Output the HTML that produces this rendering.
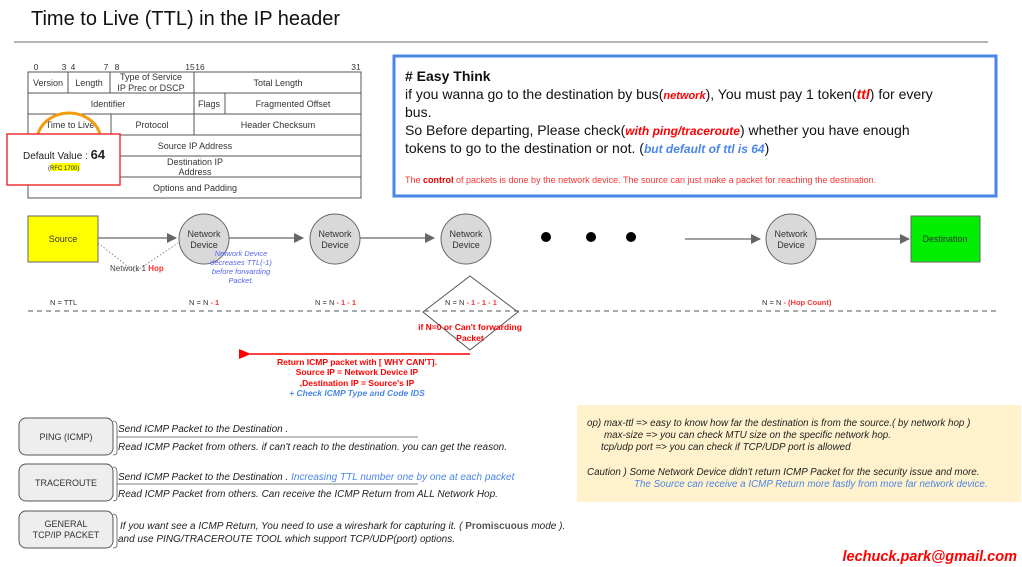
<!DOCTYPE html>
<html><head><meta charset="utf-8"><style>
html,body{margin:0;padding:0;background:#fff;}
svg{display:block;font-family:"Liberation Sans",Arial,sans-serif;}
</style></head><body>
<svg width="1022" height="567" viewBox="0 0 1022 567" xmlns="http://www.w3.org/2000/svg">
<defs>
<marker id="ag" markerWidth="10" markerHeight="10" refX="9" refY="5" orient="auto" markerUnits="userSpaceOnUse"><path d="M0,0 L10,5 L0,10 z" fill="#666"/></marker>
<marker id="ar" markerWidth="12" markerHeight="10" refX="1" refY="5" orient="auto" markerUnits="userSpaceOnUse"><path d="M12,0 L0,5 L12,10 z" fill="#f00"/></marker>
</defs>
<text x="31" y="25" font-size="20" fill="#111">Time to Live (TTL) in the IP header</text>
<line x1="14" y1="42" x2="988" y2="42" stroke="#888" stroke-width="1.3"/>

<g font-size="8.5" fill="#333" text-anchor="middle" stroke="none">
<text x="36" y="70">0</text><text x="64" y="70">3</text><text x="73" y="70">4</text><text x="106" y="70">7</text><text x="117" y="70">8</text><text x="190" y="70">15</text><text x="200" y="70">16</text><text x="356" y="70">31</text>
</g>
<g stroke="#555" stroke-width="1" fill="none">
<rect x="28" y="72" width="333" height="126"/>
<line x1="28" y1="93" x2="361" y2="93"/><line x1="28" y1="114" x2="361" y2="114"/><line x1="28" y1="135" x2="361" y2="135"/><line x1="28" y1="156" x2="361" y2="156"/><line x1="28" y1="177" x2="361" y2="177"/>
<line x1="68" y1="72" x2="68" y2="93"/><line x1="110" y1="72" x2="110" y2="93"/><line x1="194" y1="72" x2="194" y2="135"/>
<line x1="225" y1="93" x2="225" y2="114"/><line x1="111" y1="114" x2="111" y2="135"/>
</g>
<g font-size="9" fill="#333" text-anchor="middle">
<text x="48" y="86">Version</text><text x="89" y="86">Length</text>
<text x="151" y="80">Type of Service</text><text x="151" y="91">IP Prec or DSCP</text>
<text x="278" y="86">Total Length</text>
<text x="108" y="107">Identifier</text><text x="209" y="107">Flags</text><text x="293" y="107">Fragmented Offset</text>
<text x="70" y="128">Time to Live</text><text x="152" y="128">Protocol</text><text x="278" y="128">Header Checksum</text>
<text x="195" y="149">Source IP Address</text>
<text x="195" y="165">Destination IP</text><text x="195" y="175">Address</text>
<text x="195" y="191">Options and Padding</text>
</g>
<path d="M38,134 A32,28 0 0 1 100,134" stroke="#f39c12" stroke-width="3" fill="none"/>
<rect x="7" y="134" width="113" height="51" fill="#fff" stroke="#e33" stroke-width="1.5"/>
<text x="23" y="159" font-size="10" fill="#222">Default Value : <tspan font-size="13" font-weight="bold">64</tspan></text>
<rect x="51" y="163" width="29" height="8" fill="#ff0"/>
<text x="48" y="170" font-size="6" fill="#222">(RFC 1700)</text>

<rect x="394" y="56" width="602" height="140" fill="#fff" stroke="#4a86e8" stroke-width="3"/>
<text x="405" y="81" font-size="14" font-weight="bold" fill="#111"># Easy Think</text>
<g font-size="14" fill="#111">
<text x="405" y="99">if you wanna go to the destination by bus(<tspan fill="#f00" font-style="italic" font-weight="bold" font-size="11">network</tspan>), You must pay 1 token(<tspan fill="#f00" font-style="italic" font-weight="bold">ttl</tspan>) for every</text>
<text x="405" y="117">bus.</text>
<text x="405" y="135">So Before departing, Please check(<tspan fill="#f00" font-style="italic" font-weight="bold" font-size="12">with ping/traceroute</tspan>) whether you have enough</text>
<text x="405" y="153">tokens to go to the destination or not. (<tspan fill="#4a86e8" font-style="italic" font-weight="bold" font-size="12">but default of ttl is 64</tspan>)</text>
</g>
<text x="405" y="183" font-size="9" fill="#f33">The <tspan font-weight="bold" fill="#e00">control</tspan> of packets is done by the network device. The source can just make a packet for reaching the destination.</text>

<rect x="28" y="216" width="70" height="46" fill="#ff0" stroke="#666" stroke-width="1"/>
<text x="63" y="242" font-size="9" fill="#333" text-anchor="middle">Source</text>
<rect x="911" y="216" width="69" height="46" fill="#0e0" stroke="#666" stroke-width="1"/>
<text x="945" y="242" font-size="9" fill="#333" text-anchor="middle">Destination</text>
<g fill="#d9d9d9" stroke="#666" stroke-width="1">
<circle cx="204" cy="239" r="25"/><circle cx="335" cy="239" r="25"/><circle cx="466" cy="239" r="25"/><circle cx="791" cy="239" r="25"/>
</g>
<g font-size="9" fill="#333" text-anchor="middle">
<text x="204" y="237">Network</text><text x="204" y="248">Device</text>
<text x="335" y="237">Network</text><text x="335" y="248">Device</text>
<text x="466" y="237">Network</text><text x="466" y="248">Device</text>
<text x="791" y="237">Network</text><text x="791" y="248">Device</text>
</g>
<g stroke="#666" stroke-width="1.3" marker-end="url(#ag)">
<line x1="98" y1="238" x2="176" y2="238"/>
<line x1="229" y1="238" x2="303" y2="238"/>
<line x1="360" y1="238" x2="434" y2="238"/>
<line x1="685" y1="239" x2="760" y2="239"/>
<line x1="816" y1="239" x2="909" y2="239"/>
</g>
<circle cx="546" cy="237" r="5" fill="#000"/><circle cx="591" cy="237" r="5" fill="#000"/><circle cx="631" cy="237" r="5" fill="#000"/>
<path d="M98,243 L135,272 L178,243" stroke="#888" stroke-width="1" stroke-dasharray="1.5,2" fill="none"/>
<text x="110" y="271" font-size="8" fill="#444">Network 1 <tspan fill="#f33" font-weight="bold">Hop</tspan></text>
<g font-size="7.5" fill="#5566ee" font-style="italic" text-anchor="middle">
<text x="241" y="256">Network Device</text><text x="241" y="265">decreases TTL(-1)</text><text x="241" y="274">before forwarding</text><text x="241" y="283">Packet.</text>
</g>

<line x1="28" y1="311" x2="1000" y2="311" stroke="#555" stroke-width="1" stroke-dasharray="5,4"/>
<path d="M470,276 L518,312 L470,350 L423,312 Z" fill="none" stroke="#555" stroke-width="1"/>
<g font-size="7.5" fill="#333">
<text x="50" y="305">N = TTL</text>
<text x="189" y="305">N = N <tspan fill="#f33" font-weight="bold">- 1</tspan></text>
<text x="315" y="305">N = N <tspan fill="#f33" font-weight="bold">- 1 - 1</tspan></text>
<text x="445" y="305">N = N <tspan fill="#f33" font-weight="bold">- 1 - 1 - 1</tspan></text>
<text x="762" y="305">N = N <tspan fill="#f33" font-weight="bold">- (Hop Count)</tspan></text>
</g>
<g font-size="8.5" fill="#f00" font-weight="bold" text-anchor="middle">
<text x="470" y="330">if N=0 or Can't forwarding</text><text x="470" y="341">Packet</text>
</g>
<line x1="470" y1="354" x2="250" y2="354" stroke="#f00" stroke-width="1.5" marker-end="url(#ar)"/>
<g font-size="8.5" font-weight="bold" text-anchor="middle" fill="#f00">
<text x="357" y="365">Return ICMP packet with [ WHY CAN'T].</text>
<text x="357" y="375">Source IP = Network Device IP</text>
<text x="357" y="386">,Destination IP = Source's IP</text>
<text x="357" y="396" fill="#4a86e8" font-style="italic">+ Check ICMP Type and Code IDS</text>
</g>

<g fill="#eee" stroke="#555" stroke-width="1">
<rect x="19" y="418" width="94" height="37" rx="7"/>
<rect x="19" y="464" width="94" height="37" rx="7"/>
<rect x="19" y="511" width="94" height="37" rx="7"/>
</g>
<g font-size="9" fill="#333" text-anchor="middle">
<text x="66" y="440">PING (ICMP)</text>
<text x="66" y="486">TRACEROUTE</text>
<text x="66" y="527">GENERAL</text><text x="66" y="538">TCP/IP PACKET</text>
</g>
<g stroke="#555" stroke-width="0.8" fill="none">
<path d="M113,421 Q117,421 117,426 L117,452 Q117,455 113,455"/>
<line x1="117" y1="437" x2="418" y2="437"/>
<path d="M113,467 Q117,467 117,472 L117,498 Q117,501 113,501"/>
<line x1="117" y1="484" x2="418" y2="484"/>
<path d="M113,514 Q117,514 117,519 L117,545 Q117,548 113,548"/>
</g>
<g font-size="10" fill="#222" font-style="italic">
<text x="118" y="432">Send ICMP  Packet to  the Destination .</text>
<text x="118" y="450">Read ICMP Packet from others. if can't reach to the destination.  you can get the reason.</text>
<text x="118" y="480">Send ICMP  Packet to  the Destination . <tspan fill="#4a86e8">Increasing TTL number one by one at each packet</tspan></text>
<text x="118" y="497">Read ICMP Packet from others. Can receive the ICMP Return from ALL Network Hop.</text>
<text x="120" y="529">If you want see a ICMP Return, You need to use a wireshark for capturing it. ( <tspan font-style="normal" font-weight="bold" fill="#555">Promiscuous</tspan> mode ).</text>
<text x="118" y="542">and use PING/TRACEROUTE TOOL which support TCP/UDP(port) options.</text>
</g>

<rect x="577" y="405" width="444" height="97" fill="#fff2cc"/>
<g font-size="9.8" fill="#222" font-style="italic">
<text x="587" y="426">op) max-ttl =&gt; easy to know how far the destination is from the source.( by network hop )</text>
<text x="604" y="438">max-size =&gt; you can check MTU size on the specific network hop.</text>
<text x="601" y="450">tcp/udp port =&gt; you can check if TCP/UDP port is allowed</text>
<text x="587" y="475">Caution ) Some Network Device didn't return ICMP Packet for the security issue and more.</text>
<text x="634" y="487" fill="#4a86e8">The Source can receive a ICMP Return more fastly from more far network device.</text>
</g>
<text x="1017" y="561" font-size="14.5" font-weight="bold" font-style="italic" fill="#f00" text-anchor="end">lechuck.park@gmail.com</text>
</svg>
</body></html>
